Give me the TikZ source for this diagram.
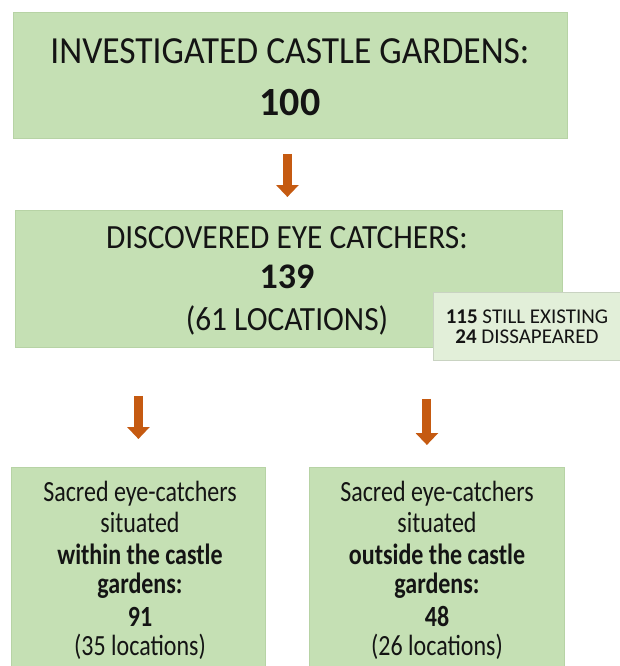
\documentclass[tikz,border=0pt]{standalone}
\usepackage{fontspec}
\setmainfont{Carlito}
\usetikzlibrary{arrows.meta}
\definecolor{boxgreen}{HTML}{C5E0B4}
\definecolor{boxedge}{HTML}{B7D3A5}
\definecolor{lightgreen}{HTML}{E2EFD9}
\definecolor{lightedge}{HTML}{C9D3C2}
\definecolor{arrowc}{HTML}{C55A11}
\definecolor{txt}{HTML}{141414}
\newcommand{\tallA}[1]{\scalebox{1}[1.08]{#1}}
\newcommand{\tallB}[1]{\scalebox{1}[1.22]{#1}}
\tikzset{
  greenbox/.style={fill=boxgreen, draw=boxedge, line width=0.8pt, inner sep=0pt, anchor=north west},
  notebox/.style={fill=lightgreen, draw=lightedge, line width=0.8pt, inner sep=0pt, anchor=north west},
  ln/.style={anchor=base, inner sep=0pt, text=txt},
  lowtext/.style={ln, font=\fontsize{24}{28}\selectfont},
  flowarrow/.style={draw=arrowc, line width=9pt, -{Triangle[width=22pt,length=12pt]}, color=arrowc},
}
\begin{document}
\begin{tikzpicture}[x=1pt,y=-1pt]
\useasboundingbox (0,0) rectangle (620,666);
\clip (0,0) rectangle (620,666);
\fill[white] (0,0) rectangle (620,666);
% boxes
\node[greenbox, minimum width=554pt, minimum height=126pt] (top) at (13,12) {};
\node[greenbox, minimum width=547pt, minimum height=137pt] (mid) at (15,210) {};
\node[notebox, minimum width=192pt, minimum height=68pt] (note) at (433,292) {};
\node[greenbox, minimum width=254pt, minimum height=230pt] (lbox) at (11,467) {};
\node[greenbox, minimum width=255pt, minimum height=230pt] (rbox) at (309,467) {};
% top box text
\node[ln, font=\fontsize{35.5}{40}\selectfont] (t1) at (290,64) {\tallA{INVESTIGATED CASTLE GARDENS:}};
\node[ln, font=\fontsize{40}{44}\selectfont\bfseries] (t2) at (290,116) {100};
% middle box text
\node[ln, font=\fontsize{31.4}{36}\selectfont] (m1) at (287,248) {\tallA{DISCOVERED EYE CATCHERS:}};
\node[ln, font=\fontsize{36}{40}\selectfont\bfseries] (m2) at (287,288) {139};
\node[ln, font=\fontsize{31.4}{36}\selectfont] (m3) at (287,330) {\tallA{(61 LOCATIONS)}};
% note text
\node[ln, font=\fontsize{21}{24}\selectfont] (n1) at (527,323) {\textbf{115} STILL EXISTING};
\node[ln, font=\fontsize{21}{24}\selectfont] (n2) at (527,343) {\textbf{24} DISSAPEARED};
% left bottom text
\node[lowtext] (l1) at (140,501) {\tallB{Sacred eye-catchers}};
\node[lowtext] (l2) at (140,532) {\tallB{situated}};
\node[lowtext] (l3) at (140,564) {\tallB{\bfseries within the castle}};
\node[lowtext] (l4) at (140,593) {\tallB{\bfseries gardens:}};
\node[lowtext] (l5) at (140,626) {\tallB{\bfseries 91}};
\node[lowtext] (l6) at (140,655) {\tallB{(35 locations)}};
% right bottom text
\node[lowtext] (r1) at (437,501) {\tallB{Sacred eye-catchers}};
\node[lowtext] (r2) at (437,532) {\tallB{situated}};
\node[lowtext] (r3) at (437,564) {\tallB{\bfseries outside the castle}};
\node[lowtext] (r4) at (437,593) {\tallB{\bfseries gardens:}};
\node[lowtext] (r5) at (437,626) {\tallB{\bfseries 48}};
\node[lowtext] (r6) at (437,655) {\tallB{(26 locations)}};
% arrows
\draw[flowarrow] ([xshift=-3pt,yshift=-15pt]top.south) -- ([xshift=-3pt,yshift=13pt]top.south |- mid.north);
\draw[flowarrow] ([yshift=-48pt]lbox.north |- mid.south) -- ([yshift=28pt]lbox.north);
\draw[flowarrow] ([xshift=-10pt,yshift=-51pt]rbox.north |- mid.south) -- ([xshift=-10pt,yshift=22pt]rbox.north);
\end{tikzpicture}
\end{document}
